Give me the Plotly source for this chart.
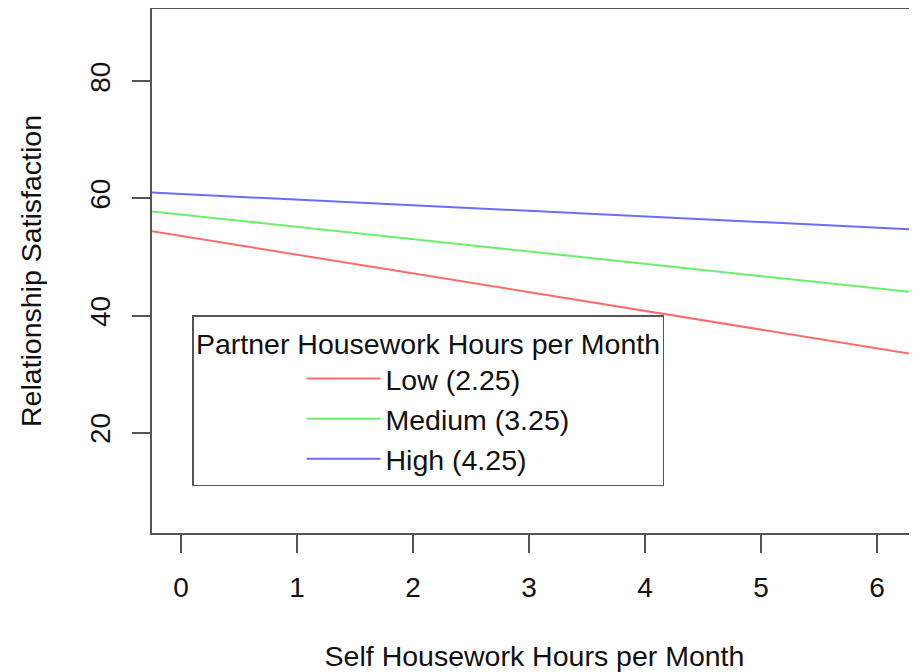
import plotly.graph_objects as go

# Data
self_hours = [-0.5, 6.5]
low_vals = [55.2, 32.8]
medium_vals = [58.3, 43.6]
high_vals = [61.24, 54.55]
series_names = ["Low (2.25)", "Medium (3.25)", "High (4.25)"]
series_colors = ["#FF6B6B", "#6BEF6B", "#6B6BFF"]
x_ticks = [0, 1, 2, 3, 4, 5, 6]
y_ticks = [20, 40, 60, 80]

FONT = "Liberation Sans, Arial, sans-serif"
TICK_FS = 28
TITLE_FS = 28.5
LEG_FS = 28.5

fig = go.Figure()
for name, vals, col in zip(series_names, [low_vals, medium_vals, high_vals], series_colors):
    fig.add_trace(go.Scatter(x=self_hours, y=vals, mode="lines", name=name,
                             line=dict(color=col, width=2)))

# page has an 8px body margin; figure is placed at (8, 8)
OFF = 8
W, H = 917 - OFF, 672 - OFF
ml, mt, mr = 152 - OFF, 1, 0
mb = H - (533 - OFF)
pw = W - ml - mr
ph = H - mt - mb

fig.update_layout(
    width=W, height=H,
    margin=dict(l=ml, r=mr, t=mt, b=mb, pad=0),
    paper_bgcolor="white", plot_bgcolor="white",
    font=dict(family=FONT, size=TICK_FS, color="#111111"),
    showlegend=True,
    legend=dict(
        x=(192 - 152) / pw, y=(533 - 315) / ph,
        xanchor="left", yanchor="top",
        bordercolor="#555555", borderwidth=1.5, bgcolor="white",
        title=dict(text="Partner Housework Hours per Month", side="top center",
                   font=dict(size=LEG_FS)),
        font=dict(size=LEG_FS),
        indentation=108,
        itemwidth=74,
        tracegroupgap=0,
    ),
    xaxis=dict(
        range=[-0.25, 6.345], tickvals=x_ticks, ticktext=[str(v) for v in x_ticks],
        showgrid=False, zeroline=False,
        showline=True, linecolor="#555555", linewidth=1.5, mirror=True,
        ticks="outside", ticklen=18, tickwidth=1.5, tickcolor="#555555",
        ticklabelstandoff=11, tickfont=dict(size=TICK_FS),
        title=dict(text="Self Housework Hours per Month", standoff=45,
                   font=dict(size=TITLE_FS)),
    ),
    yaxis=dict(
        range=[2.87, 92.36], tickvals=y_ticks, ticktext=[str(v) for v in y_ticks],
        showgrid=False, zeroline=False,
        showline=True, linecolor="#555555", linewidth=1.5, mirror=False,
        ticks="outside", ticklen=18, tickwidth=1.5, tickcolor="#555555",
        tickangle=-90, ticklabelstandoff=11, tickfont=dict(size=TICK_FS),
        title=dict(text="Relationship Satisfaction", standoff=35,
                   font=dict(size=TITLE_FS)),
    ),
)

fig.write_html("out.html")
